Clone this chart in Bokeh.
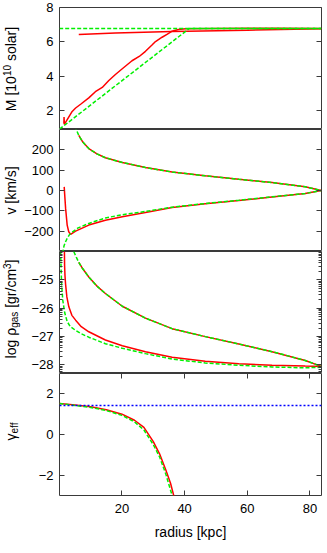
import numpy as np
from bokeh.plotting import figure
from bokeh.models import Range1d, LinearAxis, FixedTicker, CustomJSTickFormatter
from bokeh.core.properties import value
from bokeh.layouts import column, row
from bokeh.embed import file_html
from bokeh.resources import INLINE

FONT = "Liberation Sans"
RED = "#ff0000"
GREEN = "#00f000"
BLUE = "#0000ff"
FRAME = "#3a3a3a"
NB = "\u00a0"

# ---------------- data ----------------
radius_range = (0.05, 83.7)
radius_ticks = [20, 40, 60, 80]

# panel 1: enclosed mass [1e10 solar]
mass_range = (0.9, 8.0)
mass_ticks = [2, 4, 6, 8]
m_red_out_r = [1.45, 1.5, 1.6, 4.1, 5.2, 7.0, 9.4, 11.5, 13.7, 15.8, 17.9, 20.0, 23.2, 25.5,
               27.5, 29.5, 30.7, 32.8, 34.5, 36.0, 38.0, 40.3, 50.0, 60.0, 70.0, 83.6]
m_red_out = [1.25, 1.62, 1.2, 1.95, 2.15, 2.4, 2.74, 3.1, 3.35, 3.75, 4.1, 4.42, 4.9, 5.15,
             5.45, 5.8, 6.02, 6.27, 6.45, 6.62, 6.72, 6.77, 6.78, 6.79, 6.79, 6.78]
m_red_back_r = [83.6, 60.0, 36.0, 17.9, 6.2]
m_red_back = [6.76, 6.68, 6.60, 6.52, 6.43]
m_green_out_r = [0.05, 41.5, 83.6]
m_green_out = [0.92, 6.78, 6.78]
m_green_back_r = [83.6, 0.05]
m_green_back = [6.78, 6.78]

# panel 2: velocity [km/s]
vel_range = (-300, 300)
vel_ticks = [-200, -100, 0, 100, 200]
v_red_up_r = [6.2, 7.5, 9.4, 12.0, 14.7, 20.1, 27.5, 36.0, 46.6, 57.3, 67.9, 78.5, 83.6]
v_red_up = [271, 238, 206, 180, 161, 138, 113, 91, 72, 55, 39, 18, 0]
v_green_up_r = [5.0, 5.4, 6.2, 7.5, 9.4, 12.0, 14.7, 20.1, 27.5, 36.0, 46.6, 57.3, 67.9, 78.5, 83.6]
v_green_up = [318, 300, 271, 238, 206, 180, 161, 138, 113, 91, 72, 55, 39, 18, 0]
v_red_low_r = [1.55, 1.75, 2.0, 2.5, 3.0, 3.6, 5.2, 9.4, 14.7, 20.1, 27.5, 36.0, 46.6, 57.3, 67.9, 78.5, 83.6]
v_red_low = [18, -30, -88, -170, -203, -216, -200, -170, -146, -129, -108, -84, -65, -49, -32, -15, 0]
v_green_low_r = [1.0, 1.5, 2.0, 2.5, 3.2, 4.1, 6.0, 9.4, 14.7, 20.1, 27.5, 36.0, 46.6, 57.3, 67.9, 78.5, 83.6]
v_green_low = [-310, -272, -252, -235, -218, -205, -184, -162, -135, -119, -103, -82, -64, -48, -31, -15, 0]

# panel 3: log gas density [gr/cm^3]
rho_range = (-28.3, -24.0)
rho_ticks = [-28, -27, -26, -25]
rho_minor = [n + np.log10(k) for n in range(-29, -24) for k in range(2, 10)]
rho_red_up_r = [6.2, 7.3, 9.4, 12.0, 14.7, 20.1, 27.5, 36.0, 46.6, 57.3, 67.9, 78.5, 83.6]
rho_red_up = [-24.38, -24.58, -24.9, -25.22, -25.48, -25.93, -26.35, -26.72, -27.0, -27.26, -27.53, -27.84, -28.05]
rho_green_up_r = [4.6, 5.4, 6.2, 7.3, 9.4, 12.0, 14.7, 20.1, 27.5, 36.0, 46.6, 57.3, 67.9, 78.5, 83.6]
rho_green_up = [-24.0, -24.2, -24.38, -24.58, -24.9, -25.22, -25.48, -25.93, -26.35, -26.72, -27.0, -27.26, -27.53, -27.84, -28.05]
rho_red_low_r = [1.62, 1.68, 1.8, 1.98, 2.4, 3.03, 4.0, 5.2, 7.0, 9.4, 14.7, 20.1, 27.5, 36.0, 46.6, 57.3, 67.9, 78.5, 83.6]
rho_red_low = [-24.0, -24.5, -24.85, -25.14, -25.6, -25.95, -26.25, -26.42, -26.65, -26.83, -27.12, -27.32,
               -27.53, -27.73, -27.87, -27.96, -28.01, -28.04, -28.05]
rho_green_low_r = [0.4, 0.55, 0.75, 1.1, 1.7, 2.5, 3.5, 5.2, 7.0, 9.4, 14.7, 20.1, 27.5, 36.0, 46.6, 57.3, 67.9, 78.5, 83.6]
rho_green_low = [-24.0, -24.6, -25.2, -25.72, -26.15, -26.47, -26.65, -26.78, -26.9, -27.02, -27.25, -27.41,
                 -27.6, -27.79, -27.93, -28.01, -28.07, -28.1, -28.08]

# panel 4: effective polytropic index
gam_range = (-3.0, 3.0)
gam_ticks = [-2, 0, 2]
g_red_r = [0.05, 5.0, 10.0, 15.0, 20.0, 24.0, 27.0, 30.0, 32.0, 34.0, 35.5, 36.6]
g_red = [1.52, 1.45, 1.36, 1.22, 1.0, 0.7, 0.35, -0.35, -0.95, -1.75, -2.4, -3.05]
g_green_r = [0.05, 5.0, 10.0, 15.0, 20.0, 24.0, 27.0, 30.0, 32.0, 34.0, 36.1]
g_green = [1.52, 1.43, 1.33, 1.18, 0.94, 0.62, 0.22, -0.5, -1.1, -1.95, -3.05]
g_blue_r = [0.05, 83.7]
g_blue = [1.43, 1.43]

# y-axis titles: (text, font px, shift) ; shift -1 subscript, +1 superscript
titles = [
    ([("M" + NB + "[10", 14, 0), ("10", 10, 1), (NB + "solar]", 14, 0)], 68.5),
    ([("v" + NB + "[km/s]", 14, 0)], 190),
    ([("log" + NB + "ρ", 14, 0), ("gas", 10, -1), (NB + "[gr/cm", 14, 0), ("3", 10, 1), ("]", 14, 0)], 308.5),
    ([("γ", 14, 0), ("eff", 10, -1)], 431),
]

# ---------------- plotting ----------------
x_range = Range1d(*radius_range)
FW, FH = 262, 122
TOP = 7
TITLE_W = 21
BOTTOM_AXIS = 50


def style_axis(ax, ticks, minor=None, labels=True):
    ax.ticker = FixedTicker(ticks=ticks, minor_ticks=minor or [])
    ax.axis_line_color = None
    ax.major_tick_in = 5
    ax.major_tick_out = 0
    ax.minor_tick_in = 3 if minor else 0
    ax.minor_tick_out = 0
    ax.major_tick_line_color = FRAME
    ax.minor_tick_line_color = FRAME
    ax.major_tick_line_width = 1
    if labels:
        ax.major_label_text_font = FONT
        ax.major_label_text_font_size = "13px"
        ax.major_label_text_color = "black"
        ax.major_label_standoff = 6
    else:
        ax.formatter = CustomJSTickFormatter(code="return ''")
        ax.major_label_text_font_size = "1px"
        ax.major_label_standoff = 0


def panel(yr, ticks, minor=None, top=0, bottom=0, show_x=False):
    p = figure(x_range=x_range, y_range=Range1d(*yr), frame_width=FW, frame_height=FH,
               min_border_left=54 - TITLE_W, min_border_right=11, min_border_top=top,
               min_border_bottom=bottom,
               x_axis_location="below" if show_x else None, y_axis_location="left",
               output_backend="svg", toolbar_location=None)
    p.xgrid.visible = False
    p.ygrid.visible = False
    p.outline_line_color = FRAME
    p.outline_line_width = 1
    p.background_fill_color = "white"
    p.border_fill_color = "white"
    style_axis(p.yaxis[0], ticks, minor)
    ra = LinearAxis()
    style_axis(ra, ticks, minor, labels=False)
    p.add_layout(ra, "right")
    return p


def red(p, x, y):
    p.line(x, y, line_color=RED, line_width=1.5)


def green(p, x, y):
    p.line(x, y, line_color=GREEN, line_width=1.5, line_dash="4 2")


# panel 1
p1 = panel(mass_range, mass_ticks, top=TOP)
red(p1, m_red_out_r, m_red_out)
red(p1, m_red_back_r, m_red_back)
green(p1, m_green_out_r, m_green_out)
green(p1, m_green_back_r, m_green_back)

# panel 2
p2 = panel(vel_range, vel_ticks)
red(p2, v_red_up_r, v_red_up)
red(p2, v_red_low_r, v_red_low)
green(p2, v_green_up_r, v_green_up)
green(p2, v_green_low_r, v_green_low)

# panel 3
p3 = panel(rho_range, rho_ticks, minor=rho_minor)
red(p3, rho_red_up_r, rho_red_up)
red(p3, rho_red_low_r, rho_red_low)
green(p3, rho_green_up_r, rho_green_up)
green(p3, rho_green_low_r, rho_green_low)

# panel 4
p4 = panel(gam_range, gam_ticks, bottom=BOTTOM_AXIS, show_x=True)
red(p4, g_red_r, g_red)
green(p4, g_green_r, g_green)
p4.line(g_blue_r, g_blue, line_color=BLUE, line_width=1.5, line_dash="2 2")
xa = p4.xaxis[0]
style_axis(xa, radius_ticks)
xa.major_label_standoff = 8
xa.axis_label = "radius [kpc]"
xa.axis_label_text_font = FONT
xa.axis_label_text_font_size = "14px"
xa.axis_label_text_font_style = "normal"
xa.axis_label_text_color = "black"
xa.axis_label_standoff = 8
ta = LinearAxis()
style_axis(ta, radius_ticks, labels=False)
p4.add_layout(ta, "above")

# title strip on the left (1 data unit = 1 px, y measured from top)
H = TOP + 4 * FH + BOTTOM_AXIS
tf = figure(width=TITLE_W, height=H, x_range=Range1d(0, TITLE_W), y_range=Range1d(H, 0),
            x_axis_location=None, y_axis_location=None, min_border=0,
            output_backend="svg", toolbar_location=None)
tf.xgrid.visible = False
tf.ygrid.visible = False
tf.outline_line_color = None

WID = {"M": .833, " ": .278, NB: .278, "[": .278, "]": .278, "/": .278, "l": .222, "o": .556,
       "g": .556, "a": .556, "s": .5, "r": .333, "c": .5, "m": .833, "k": .5, "v": .5,
       "e": .556, "f": .278, "ρ": .576, "γ": .5}


def tw(t, s):
    return sum(WID.get(ch, .556) for ch in t) * s


MID = 10.0
for pieces, center in titles:
    total = sum(tw(t, s) for t, s, _ in pieces)
    y = center + total / 2
    for t, s, sh in pieces:
        w = tw(t, s)
        xm = MID + (4.4 if sh < 0 else (-3.1 if sh > 0 else 0))
        tf.text(x=[xm], y=[y - w / 2], text=[t], angle=np.pi / 2, text_font=value(FONT),
                text_font_size=value(f"{s}px"), text_align="center", text_baseline="middle",
                text_color="black")
        y -= w

layout = row(tf, column(p1, p2, p3, p4, spacing=0), spacing=0)
open("out.html", "w").write(file_html(layout, INLINE))
